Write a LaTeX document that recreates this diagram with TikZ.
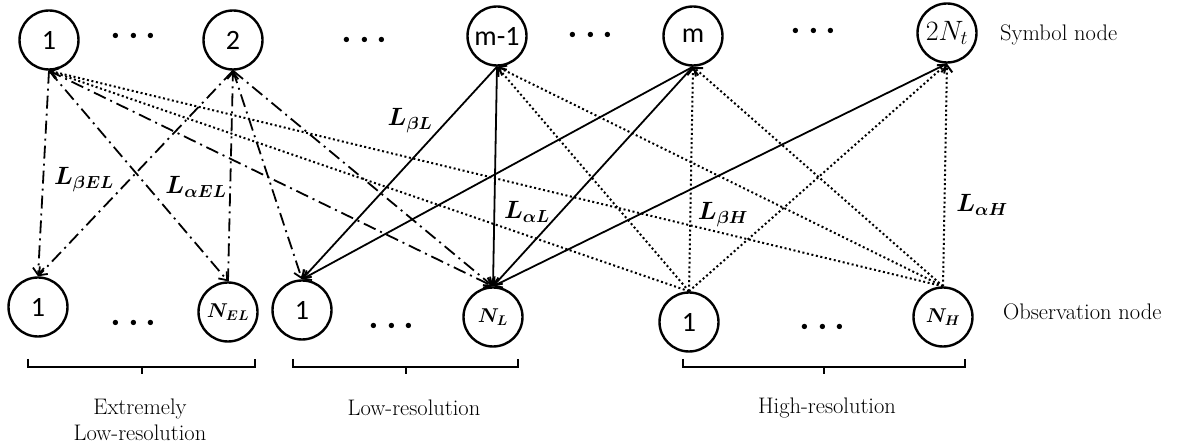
\RequirePackage{fix-cm}
\documentclass[tikz,border=0pt]{standalone}
\usepackage{amsmath}
\usepackage{bm}
\usepackage{fontspec}
\newfontfamily\calfont{Carlito}
\usetikzlibrary{arrows.meta}

\begin{document}
\begin{tikzpicture}[x=1pt, y=-1pt,
    >={Straight Barb[length=7pt,width=11pt]},
    every node/.style={inner sep=0pt},
    var/.style={draw,circle,line width=2.4pt,minimum size=59pt,font=\calfont\fontsize{28}{28}\selectfont},
    ddot/.style={->,line width=1.8pt,dash pattern=on 13pt off 5pt on 2pt off 5pt},
    solid line/.style={->,line width=1.8pt},
    dots line/.style={->,line width=2pt,dash pattern=on 2pt off 2.6pt},
    msg/.style={font=\fontsize{25}{25}\selectfont},
    txt/.style={font=\fontsize{22.5}{26}\selectfont,align=center},
    dots/.style={font=\fontsize{34}{34}\selectfont},
    brk/.style={line width=2pt}]%
  \useasboundingbox (0,0) rectangle (1203,443);%
  % symbol nodes
  \node[var] (S-1) at (49,40) {1};
  \node[var] (S-2) at (233,40) {2};
  \node[var] (S-m1) at (497,36) {m-1};
  \node[var] (S-m) at (693,36) {m};
  \node[var,font=\fontsize{28}{28}\selectfont] (S-Nt) at (947,33) {$2N_t$};
  % observation nodes
  \node[var] (OE-1) at (38,307) {1};
  \node[var,font=\fontsize{20}{20}\selectfont] (OE-N) at (228,312) {$\bm{N_{EL}}$};
  \node[var] (OL-1) at (302,310) {1};
  \node[var,font=\fontsize{20}{20}\selectfont] (OL-N) at (493,317) {$\bm{N_{L}}$};
  \node[var] (OH-1) at (689,322) {1};
  \node[var,font=\fontsize{20}{20}\selectfont] (OH-N) at (943,317) {$\bm{N_{H}}$};
  % dots
  \foreach \n/\x/\y in {T-1/137/36, T-2/368/40, T-3/594/35, T-4/817/31, B-1/137/323, B-2/395/326, B-3/826/327}{%
    \node[dots] (d\n) at (\x,\y) {$\bm{\cdots}$};
  }
  % extremely low-resolution messages
  \foreach \s/\o in {S-1/OE-1, S-2/OE-1, S-1/OE-N, S-2/OL-1, S-1/OL-N, S-2/OL-N}{%
    \draw[ddot] (\s.south) -- (\o.north);
  }
  \draw[ddot] (OE-N.north) -- (S-2.south);
  % low-resolution messages
  \foreach \s/\o in {S-m1/OL-1, S-m/OL-1, S-m1/OL-N, S-m/OL-N, S-Nt/OL-N}{%
    \draw[solid line] (\s.south) -- (\o.north);
  }
  % high-resolution messages
  \foreach \o in {OH-1, OH-N}{%
    \foreach \s in {S-1, S-m1, S-m, S-Nt}{%
      \draw[dots line] (\o.north) -- (\s.south);
    }
  }
  % message labels
  \node[msg] (L-bEL) at (84,180) {$\bm{L_{\beta EL}}$};
  \node[msg] (L-aEL) at (196,187) {$\bm{L_{\alpha EL}}$};
  \node[msg] (L-bL) at (410,121) {$\bm{L_{\beta L}}$};
  \node[msg] (L-aL) at (527,212) {$\bm{L_{\alpha L}}$};
  \node[msg] (L-bH) at (723,215) {$\bm{L_{\beta H}}$};
  \node[msg] (L-aH) at (982,205) {$\bm{L_{\alpha H}}$};
  % row labels
  \node[txt,anchor=west] (sym) at (1000,35) {Symbol node};
  \node[txt,anchor=west] (obs) at (1003,312) {Observation node};
  % brackets
  \foreach \a/\b in {28/255, 293/518, 683/965}{%
    \draw[brk] (\a,359) -- (\a,367) -- (\b,367) -- (\b,359);
    \draw[brk] ({(\a+\b)/2},367) -- ({(\a+\b)/2},374);
  }
  \node[txt] (g-EL) at (140,420) {Extremely\\Low-resolution};
  \node[txt] (g-L) at (414,408) {Low-resolution};
  \node[txt] (g-H) at (827,408) {High-resolution};
\end{tikzpicture}
\end{document}
